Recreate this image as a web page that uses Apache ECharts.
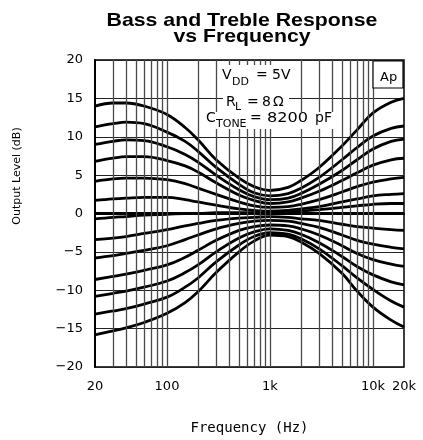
<!DOCTYPE html>
<html>
<head>
<meta charset="utf-8">
<title>Bass and Treble Response</title>
<script src="https://cdn.jsdelivr.net/npm/echarts@6/dist/echarts.min.js"></script>
<style>
  html, body { margin: 0; padding: 0; background: #fff; }
  #main { width: 423px; height: 440px; }
</style>
</head>
<body>
<div id="main"></div>
<script>
// frequencies (Hz) the curves were read at
var freqHz = [20, 30, 40, 60, 100, 150, 200, 300, 500, 700, 1000, 1500, 2000, 3000, 5000, 7000, 10000, 15000, 20000];

// output level (dB), top curve first
var boost6 = [14.0, 14.4, 14.4, 14.0, 12.9, 11.2, 9.6, 7.0, 4.6, 3.5, 3.0, 3.4, 4.3, 6.0, 8.8, 10.9, 13.1, 14.5, 15.0];
var boost5 = [11.3, 11.7, 11.9, 11.7, 10.6, 9.4, 8.1, 6.0, 3.8, 2.7, 2.3, 2.6, 3.3, 4.7, 7.0, 8.6, 10.1, 11.1, 11.4];
var boost4 = [9.0, 9.4, 9.6, 9.5, 8.7, 7.7, 6.7, 5.0, 3.1, 2.2, 1.8, 2.0, 2.6, 3.8, 5.6, 7.0, 8.4, 9.4, 9.7];
var boost3 = [6.8, 7.2, 7.4, 7.4, 6.9, 6.2, 5.4, 4.0, 2.4, 1.7, 1.3, 1.5, 2.0, 2.9, 4.3, 5.3, 6.3, 7.0, 7.2];
var boost2 = [4.2, 4.5, 4.6, 4.6, 4.4, 3.9, 3.3, 2.5, 1.5, 1.0, 0.8, 0.9, 1.2, 1.8, 2.8, 3.5, 4.1, 4.5, 4.7];
var boost1 = [1.7, 1.9, 2.0, 2.1, 2.1, 1.8, 1.5, 1.1, 0.6, 0.4, 0.3, 0.4, 0.6, 0.9, 1.5, 1.9, 2.3, 2.5, 2.6];
var mid = [-0.7, -0.5, -0.4, -0.2, -0.1, 0.0, 0.0, 0.1, 0.1, 0.1, 0.1, 0.2, 0.3, 0.5, 0.8, 1.0, 1.2, 1.3, 1.3];
var flat = [0, 0, 0, 0, 0, 0, 0, 0, 0, 0, 0, 0, 0, 0, 0, 0, 0, 0, 0];
var cut1 = [-3.4, -3.2, -3.0, -2.6, -2.1, -1.6, -1.3, -0.9, -0.6, -0.5, -0.4, -0.5, -0.7, -0.9, -1.4, -1.7, -1.9, -2.1, -2.2];
var cut2 = [-5.8, -5.5, -5.2, -4.8, -4.2, -3.4, -2.8, -2.0, -1.3, -1.0, -0.9, -1.0, -1.3, -1.8, -2.8, -3.5, -4.0, -4.4, -4.6];
var cut3 = [-8.6, -8.2, -7.9, -7.4, -6.7, -5.7, -4.8, -3.5, -2.2, -1.7, -1.5, -1.6, -2.0, -2.8, -4.2, -5.2, -6.0, -6.6, -6.9];
var cut4 = [-10.8, -10.4, -10.1, -9.6, -8.8, -7.7, -6.7, -5.0, -3.2, -2.4, -2.0, -2.2, -2.7, -3.8, -5.6, -6.9, -8.0, -8.9, -9.3];
var cut5 = [-13.1, -12.7, -12.4, -11.8, -10.9, -9.6, -8.4, -6.3, -4.1, -3.0, -2.5, -2.7, -3.3, -4.6, -6.8, -8.4, -9.9, -11.4, -12.2];
var cut6 = [-15.8, -15.3, -14.9, -14.2, -13.0, -11.6, -10.2, -7.7, -5.0, -3.6, -2.8, -3.0, -3.7, -5.2, -7.8, -10.1, -12.2, -13.9, -14.8];

var curves = [boost6, boost5, boost4, boost3, boost2, boost1, mid, flat, cut1, cut2, cut3, cut4, cut5, cut6];

// log grid lines (Hz)
var gridHz = [30, 40, 50, 60, 70, 80, 90, 100, 200, 300, 400, 500, 600, 700, 800, 900,
              1000, 2000, 3000, 4000, 5000, 6000, 7000, 8000, 9000, 10000];

var font = 'DejaVu Sans';

var myChart = echarts.init(document.getElementById('main'));

var series = [{
    type: 'line',
    data: [],
    z: 1,
    silent: true,
    markLine: {
        silent: true,
        symbol: 'none',
        animation: false,
        label: { show: false },
        lineStyle: { color: '#4a4a4a', width: 1.3, type: 'solid' },
        data: gridHz.map(function (f) { return { xAxis: f }; })
    }
}];

curves.forEach(function (vals) {
    series.push({
        type: 'line',
        z: 3,
        smooth: 0.4,
        symbol: 'none',
        lineStyle: { color: '#000', width: 2.8 },
        data: freqHz.map(function (f, i) { return [f, vals[i]]; })
    });
});

// one positioned piece of text (size in px)
function txt(x, y, s, size, extra) {
    var el = {
        type: 'text',
        z: 101,
        x: x,
        y: y,
        style: {
            text: s,
            font: size + 'px "' + font + '"',
            fill: '#000',
            align: 'left',
            verticalAlign: 'middle'
        }
    };
    if (extra) {
        for (var k in extra) el[k] = extra[k];
    }
    return el;
}

function whiteBox(x, y, w, h) {
    return {
        type: 'rect',
        z: 100,
        shape: { x: x, y: y, width: w, height: h },
        style: { fill: '#fff' }
    };
}

var option = {
    backgroundColor: '#fff',
    animation: false,
    grid: {
        left: 95,
        right: 19,
        top: 60,
        bottom: 70,
        show: true,
        borderColor: '#000',
        borderWidth: 1.5,
        containLabel: false
    },
    xAxis: {
        type: 'log',
        logBase: 10,
        min: 20,
        max: 20000,
        name: 'Frequency (Hz)',
        nameLocation: 'middle',
        nameGap: 54,
        nameTextStyle: { fontFamily: 'DejaVu Sans Mono', fontSize: 14, color: '#000' },
        axisLine: { show: true, lineStyle: { color: '#000', width: 2 } },
        axisTick: { show: false },
        splitLine: { show: false },
        axisLabel: {
            margin: 13,
            showMinLabel: true,
            showMaxLabel: true,
            fontFamily: font,
            fontSize: 13,
            color: '#000',
            formatter: function (v) {
                v = Math.round(v);
                return v >= 1000 ? (v / 1000) + 'k' : String(v);
            }
        }
    },
    yAxis: {
        type: 'value',
        min: -20,
        max: 20,
        interval: 5,
        axisLine: { show: true, lineStyle: { color: '#000', width: 2 } },
        axisTick: { show: false },
        splitLine: { show: true, lineStyle: { color: '#222', width: 1.2 } },
        axisLabel: {
            margin: 12,
            fontFamily: font,
            fontSize: 13,
            color: '#000',
            formatter: function (v) {
                return v < 0 ? '\u2212' + Math.abs(v) : String(v);
            }
        }
    },
    graphic: [
        // title
        {
            type: 'text', x: 242, y: 21, scaleX: 1.12,
            style: {
                text: 'Bass and Treble Response',
                font: 'bold 19px "Liberation Sans"',
                fill: '#000', align: 'center', verticalAlign: 'middle'
            }
        },
        {
            type: 'text', x: 242, y: 37, scaleX: 1.12,
            style: {
                text: 'vs Frequency',
                font: 'bold 19px "Liberation Sans"',
                fill: '#000', align: 'center', verticalAlign: 'middle'
            }
        },
        // y axis name
        {
            type: 'text',
            x: 17,
            y: 176,
            rotation: Math.PI / 2,
            style: {
                text: 'Output Level (dB)',
                font: '11px "' + font + '"',
                fill: '#000',
                align: 'center',
                verticalAlign: 'middle'
            }
        },
        // Ap box
        {
            type: 'rect',
            z: 100,
            shape: { x: 373, y: 61, width: 30, height: 27 },
            style: { fill: '#fff', stroke: '#000', lineWidth: 1.2 }
        },
        txt(380, 78, 'Ap', 13),
        // conditions
        whiteBox(219, 65, 77, 29),
        txt(222, 75, 'V', 14),
        txt(232, 82, 'DD', 11),
        txt(256, 75, '=', 14),
        txt(272, 75, '5V', 14),
        whiteBox(223, 94, 66, 18),
        txt(226, 102, 'R', 14),
        txt(235, 107, 'L', 11),
        txt(247, 102, '=', 14),
        txt(262, 102, '8', 14),
        txt(273, 102, '\u03A9', 14),
        whiteBox(204, 112, 136, 17),
        txt(206, 118, 'C', 14),
        txt(216, 124, 'TONE', 11),
        txt(250, 118, '=', 14),
        txt(267, 118, '8200', 14, { scaleX: 1.15 }),
        txt(315, 118, 'pF', 14)
    ],
    series: series
};

myChart.setOption(option);
</script>
</body>
</html>
